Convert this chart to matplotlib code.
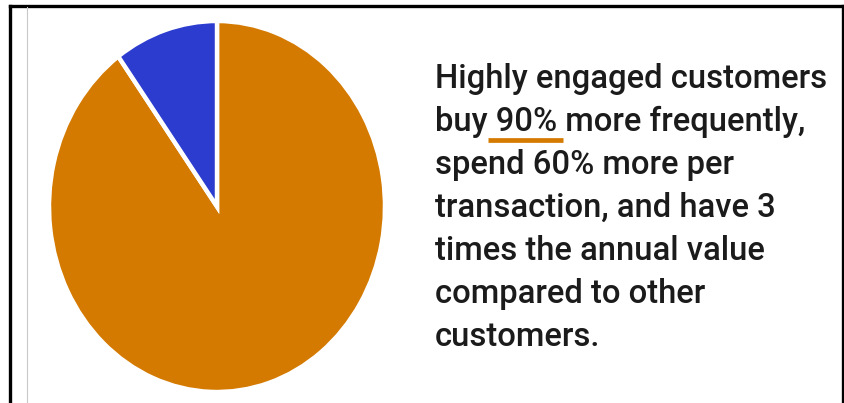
import matplotlib
matplotlib.use("Agg")
import matplotlib.pyplot as plt
from matplotlib.lines import Line2D

# ─── DATA ────────────────────────────────────────────────────────────────────

segments = ["Highly engaged", "Other"]
shares = [90, 10]
seg_colors = ["#D47A00", "#2B3CCF"]

caption_lines = [
    "Highly engaged customers",
    "buy 90% more frequently,",
    "spend 60% more per",
    "transaction, and have 3",
    "times the annual value",
    "compared to other",
    "customers.",
]
highlight = "90%"

W, H, DPI = 845, 403, 100
FONT = "Roboto"
TEXT_SIZE = 23.6

fig = plt.figure(figsize=(W / DPI, H / DPI), dpi=DPI, facecolor="white")


def px(x, y):
    """pixel (from top-left) -> figure fraction"""
    return x / W, 1 - y / H


# ─── PIE ─────────────────────────────────────────────────────────────────────

left, top, right, bottom = 49, 21, 385, 392
ax = fig.add_axes([left / W, 1 - bottom / H, (right - left) / W, (bottom - top) / H])
ax.pie(shares, colors=seg_colors, startangle=90, counterclock=False,
       radius=1.0, wedgeprops=dict(edgecolor="white", linewidth=3.2))
ax.set_aspect("auto")
ax.set_xlim(-1, 1)
ax.set_ylim(-1, 1)
ax.axis("off")

# ─── FRAME ───────────────────────────────────────────────────────────────────

frame_kw = dict(color="black", linewidth=2.4, transform=fig.transFigure)
fig.add_artist(Line2D(*zip(px(10, 6), px(10, H)), **frame_kw))
fig.add_artist(Line2D(*zip(px(10, 6), px(844, 6)), **frame_kw))
fig.add_artist(Line2D(*zip(px(843.5, 6), px(843.5, H)), **frame_kw))
fig.add_artist(Line2D(*zip(px(27, 7), px(27, H)), color="#c8c8c8",
                      linewidth=0.8, transform=fig.transFigure))

# ─── CAPTION ─────────────────────────────────────────────────────────────────

x0 = 435
baseline0, step = 88, 43
txt_kw = dict(fontsize=TEXT_SIZE, family=FONT, weight="medium", color="#1b1b1b",
              va="baseline", ha="left")

renderer = fig.canvas.get_renderer()
for i, line in enumerate(caption_lines):
    y = baseline0 + i * step
    t = fig.text(*px(x0, y), line, **txt_kw)
    if highlight in line:
        pre = line.split(highlight)[0].rstrip()
        probe = fig.text(*px(x0, y), pre, **txt_kw)
        x_start = probe.get_window_extent(renderer).x1
        probe.remove()
        probe = fig.text(*px(x0, y), line.split(highlight)[0] + highlight, **txt_kw)
        x_end = probe.get_window_extent(renderer).x1
        probe.remove()
        uy = y + 9
        fig.add_artist(Line2D([x_start / W, (x_end + 6) / W], [1 - uy / H, 1 - uy / H],
                              color="#D47A00", linewidth=3.4, solid_capstyle="butt",
                              transform=fig.transFigure))

fig.savefig("out.png", dpi=DPI, facecolor="white")
